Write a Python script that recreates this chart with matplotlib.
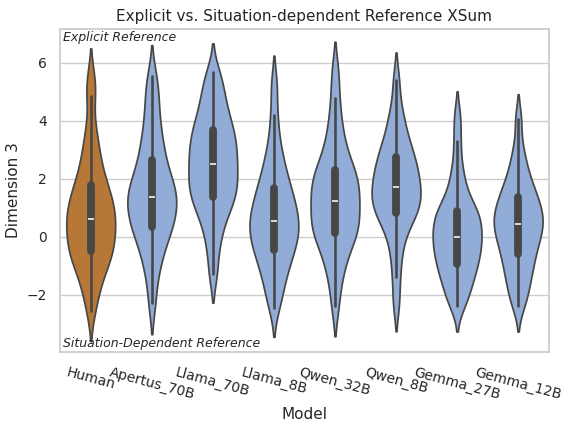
import pandas as pd
import matplotlib
matplotlib.use("Agg")
import matplotlib.pyplot as plt
import seaborn as sns

# modelos na ordem do eixo x
models = ["Human", "Apertus_70B", "Llama_70B", "Llama_8B",
          "Qwen_32B", "Qwen_8B", "Gemma_27B", "Gemma_12B"]

# valores (quantis aproximados de cada distribuicao)
human = [-2.55, -1.95, -1.6, -1.3, -1.05, -0.85, -0.68, -0.56, -0.45, -0.3,
         -0.15, 0.0, 0.15, 0.3, 0.45, 0.56, 0.66, 0.8, 0.95, 1.1,
         1.25, 1.4, 1.55, 1.72, 1.95, 2.2, 2.5, 2.85, 3.25, 3.8,
         4.85, 5.45]
apertus_70b = [-2.3, -1.45, -0.95, -0.6, -0.3, -0.05, 0.15, 0.32, 0.45, 0.6,
               0.75, 0.9, 1.05, 1.2, 1.32, 1.44, 1.56, 1.7, 1.85, 2.0,
               2.2, 2.45, 2.7, 2.95, 3.25, 3.6, 4.0, 4.5, 5.0, 5.55]
llama_70b = [-1.3, -0.5, 0.05, 0.45, 0.75, 1.0, 1.18, 1.34, 1.5, 1.65,
             1.8, 1.95, 2.1, 2.25, 2.43, 2.59, 2.75, 2.9, 3.05, 3.2,
             3.38, 3.55, 3.72, 3.9, 4.1, 4.35, 4.65, 4.95, 5.3, 5.7]
llama_8b = [-2.45, -2.0, -1.65, -1.35, -1.1, -0.88, -0.7, -0.52, -0.36, -0.22,
            -0.08, 0.05, 0.18, 0.3, 0.42, 0.55, 0.68, 0.81, 0.95, 1.1,
            1.26, 1.42, 1.6, 1.78, 2.0, 2.25, 2.55, 2.9, 3.4, 4.2,
            5.25]
qwen_32b = [-2.4, -1.6, -1.15, -0.8, -0.5, -0.25, -0.05, 0.07, 0.21, 0.33,
            0.48, 0.63, 0.78, 0.93, 1.08, 1.23, 1.38, 1.52, 1.66, 1.8,
            1.95, 2.1, 2.26, 2.38, 2.6, 2.9, 3.2, 3.6, 4.1, 4.8,
            5.7]
qwen_8b = [-2.3, -1.4, -0.7, -0.2, 0.2, 0.45, 0.65, 0.8, 0.92, 1.04,
           1.16, 1.28, 1.4, 1.52, 1.65, 1.79, 1.92, 2.05, 2.18, 2.32,
           2.46, 2.66, 2.8, 2.95, 3.15, 3.4, 3.7, 4.05, 4.5, 5.4]
gemma_27b = [-2.4, -2.15, -1.9, -1.68, -1.48, -1.3, -1.15, -1.01, -0.87, -0.73,
             -0.6, -0.47, -0.35, -0.23, -0.11, 0.0, 0.12, 0.24, 0.36, 0.49,
             0.62, 0.75, 0.86, 0.94, 1.1, 1.35, 1.65, 2.0, 2.5, 3.3,
             4.15]
gemma_12b = [-2.4, -2.05, -1.75, -1.48, -1.25, -1.03, -0.83, -0.65, -0.47, -0.3,
             -0.15, 0.0, 0.13, 0.26, 0.37, 0.49, 0.6, 0.72, 0.84, 0.97,
             1.1, 1.25, 1.4, 1.55, 1.75, 1.98, 2.25, 2.6, 3.1, 4.05]

valores = [human, apertus_70b, llama_70b, llama_8b,
           qwen_32b, qwen_8b, gemma_27b, gemma_12b]

cor_humano = "#B77837"
cor_modelo = "#91ACD7"

linhas = []
for nome, vals in zip(models, valores):
    for v in vals:
        linhas.append({"Model": nome, "value": v})
df = pd.DataFrame(linhas)

paleta = {m: (cor_humano if m == "Human" else cor_modelo) for m in models}

sns.set_theme(style="whitegrid")
fig, ax = plt.subplots(figsize=(5.68, 4.26), dpi=100)
fig.subplots_adjust(left=0.106, right=0.966, top=0.932, bottom=0.174)

sns.violinplot(data=df, x="Model", y="value", hue="Model", order=models,
               palette=paleta, saturation=1, legend=False,
               density_norm="width", bw_adjust=0.62, cut=1.8,
               inner="box", ax=ax)

ax.set_ylim(-3.97, 7.17)
ax.set_title("Explicit vs. Situation-dependent Reference XSum", fontsize=11)
ax.set_xlabel("Model", fontsize=11)
ax.set_ylabel("Dimension 3", fontsize=11)
ax.tick_params(axis="y", labelsize=10)
ax.tick_params(axis="x", labelsize=10)
plt.setp(ax.get_xticklabels(), rotation=-15)

ax.text(0.005, 0.995, "Explicit Reference", transform=ax.transAxes,
        ha="left", va="top", fontsize=9, style="italic", color="0.15")
ax.text(0.005, 0.005, "Situation-Dependent Reference", transform=ax.transAxes,
        ha="left", va="bottom", fontsize=9, style="italic", color="0.15")

plt.savefig("out.png", dpi=100)
